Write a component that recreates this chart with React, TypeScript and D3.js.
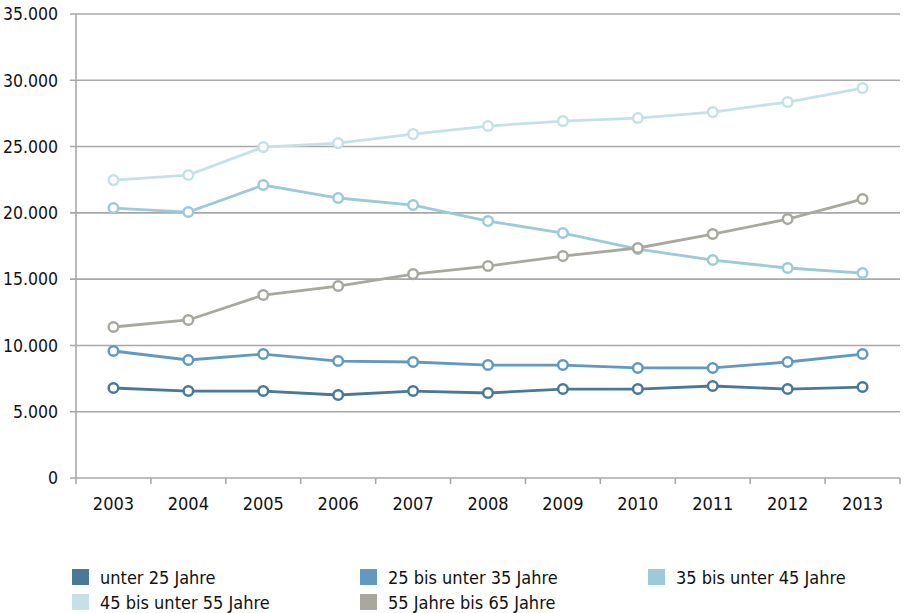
import React, { useEffect, useRef } from "react";
import * as d3 from "d3";

const years = ["2003", "2004", "2005", "2006", "2007", "2008", "2009", "2010", "2011", "2012", "2013"];
const yTicks = [0, 5000, 10000, 15000, 20000, 25000, 30000, 35000];

const unter25 = [6790, 6560, 6560, 6260, 6560, 6410, 6710, 6710, 6940, 6710, 6860];
const von25bis35 = [9580, 8900, 9350, 8820, 8750, 8520, 8520, 8300, 8300, 8750, 9350];
const von35bis45 = [20360, 20060, 22100, 21120, 20590, 19380, 18480, 17270, 16440, 15840, 15460];
const von45bis55 = [22470, 22850, 24960, 25260, 25940, 26550, 26920, 27150, 27600, 28360, 29410];
const von55bis65 = [11390, 11920, 13800, 14480, 15380, 15990, 16740, 17350, 18400, 19530, 21040];

const seriesNames = [
  "unter 25 Jahre",
  "25 bis unter 35 Jahre",
  "35 bis unter 45 Jahre",
  "45 bis unter 55 Jahre",
  "55 Jahre bis 65 Jahre",
];
const seriesColors = ["#4a7898", "#6199c1", "#9ccad8", "#c5e1e8", "#a9a89e"];

const fontFamily = "'Liberation Sans Narrow', 'DejaVu Sans Condensed', 'Roboto', sans-serif";

const App = () => {
  const svgRef = useRef<SVGSVGElement>(null);

  useEffect(() => {
    const svg = d3.select(svgRef.current);
    svg.selectAll("*").remove();

    const width = 907;
    const height = 613;
    const left = 76;
    const right = 900;
    const top = 14;
    const bottom = 478;

    svg.attr("width", width).attr("height", height);

    const x = d3.scaleBand().domain(years).range([left, right]);
    const y = d3.scaleLinear().domain([0, 35000]).range([bottom, top]);
    const fmt = (v: number) => (v === 0 ? "0" : d3.format(",")(v).replace(/,/g, "."));

    // horizontal grid
    svg
      .append("g")
      .selectAll("line")
      .data(yTicks)
      .enter()
      .append("line")
      .attr("x1", left - 6)
      .attr("x2", right)
      .attr("y1", (d) => y(d))
      .attr("y2", (d) => y(d))
      .attr("stroke", "#a8a8a8")
      .attr("stroke-width", 1.6);

    svg
      .append("g")
      .selectAll("text")
      .data(yTicks)
      .enter()
      .append("text")
      .attr("x", left - 18)
      .attr("y", (d) => y(d))
      .attr("dy", "0.36em")
      .attr("text-anchor", "end")
      .style("font-family", fontFamily)
      .style("font-size", "17.5px")
      .attr("fill", "#111")
      .text((d) => fmt(d));

    // y axis line
    svg
      .append("line")
      .attr("x1", left)
      .attr("x2", left)
      .attr("y1", top)
      .attr("y2", bottom + 6)
      .attr("stroke", "#a8a8a8")
      .attr("stroke-width", 1.6);

    // x ticks at band boundaries
    const bounds = years.map((yr) => x(yr) as number).concat([right]);
    svg
      .append("g")
      .selectAll("line")
      .data(bounds.slice(1))
      .enter()
      .append("line")
      .attr("x1", (d) => d)
      .attr("x2", (d) => d)
      .attr("y1", bottom)
      .attr("y2", bottom + 6)
      .attr("stroke", "#a8a8a8")
      .attr("stroke-width", 1.6);

    svg
      .append("g")
      .selectAll("text")
      .data(years)
      .enter()
      .append("text")
      .attr("x", (d) => (x(d) as number) + x.bandwidth() / 2)
      .attr("y", 510)
      .attr("text-anchor", "middle")
      .style("font-family", fontFamily)
      .style("font-size", "18px")
      .attr("fill", "#111")
      .text((d) => d);

    const allSeries = [unter25, von25bis35, von35bis45, von45bis55, von55bis65];
    const cx = (i: number) => (x(years[i]) as number) + x.bandwidth() / 2;
    const line = d3
      .line<number>()
      .x((d, i) => cx(i))
      .y((d) => y(d));

    allSeries.forEach((values, s) => {
      const g = svg.append("g");
      g.append("path")
        .attr("d", line(values))
        .attr("fill", "none")
        .attr("stroke", seriesColors[s])
        .attr("stroke-width", 2.8);
      g.selectAll("circle")
        .data(values)
        .enter()
        .append("circle")
        .attr("cx", (d, i) => cx(i))
        .attr("cy", (d) => y(d))
        .attr("r", 4.8)
        .attr("fill", "white")
        .attr("stroke", seriesColors[s])
        .attr("stroke-width", 2.5);
    });

    // legend
    const legendPos = [
      [72, 569],
      [360, 569],
      [648, 569],
      [72, 594],
      [360, 594],
    ];
    seriesNames.forEach((name, i) => {
      const [lx, ly] = legendPos[i];
      svg
        .append("rect")
        .attr("x", lx)
        .attr("y", ly)
        .attr("width", 17)
        .attr("height", 16)
        .attr("fill", seriesColors[i]);
      svg
        .append("text")
        .attr("x", lx + 28)
        .attr("y", ly + 15)
        .style("font-family", fontFamily)
        .style("font-size", "18px")
        .attr("fill", "#111")
        .text(name);
    });
  }, []);

  return <svg ref={svgRef} style={{ position: "absolute", left: 0, top: 0 }}></svg>;
};

export default App;
